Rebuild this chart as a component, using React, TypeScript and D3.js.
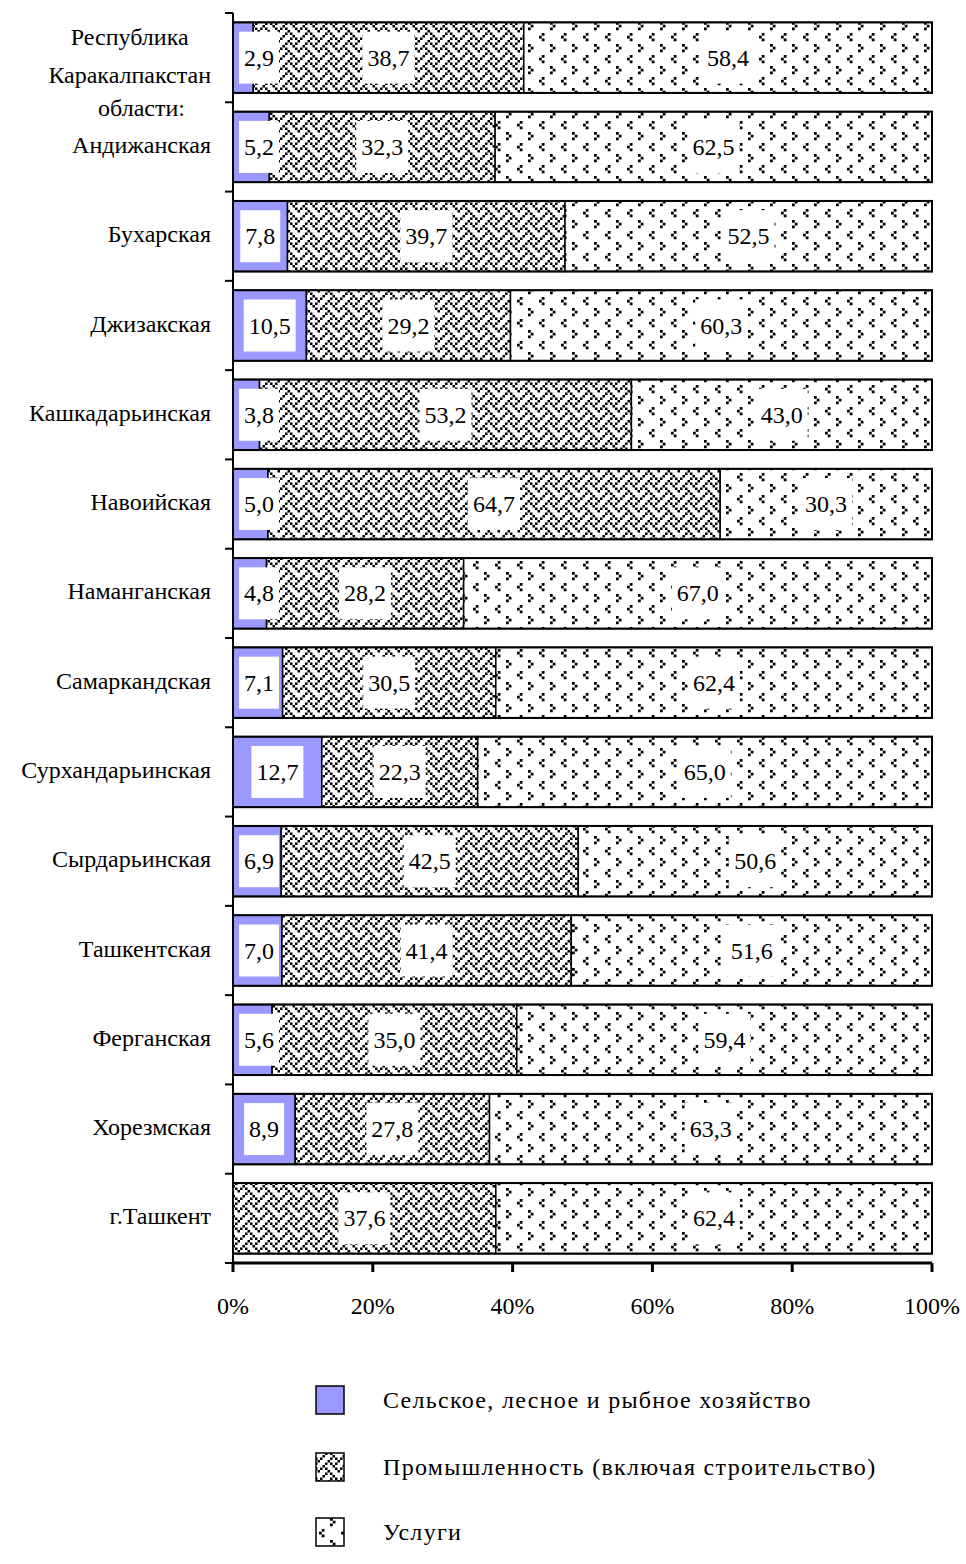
import React, { useEffect, useRef } from 'react';
import * as d3 from 'd3';

// categories (regions) and shares, %
const categories = [
  'Республика\nКаракалпакстан',
  'Андижанская',
  'Бухарская',
  'Джизакская',
  'Кашкадарьинская',
  'Навоийская',
  'Наманганская',
  'Самаркандская',
  'Сурхандарьинская',
  'Сырдарьинская',
  'Ташкентская',
  'Ферганская',
  'Хорезмская',
  'г.Ташкент',
];
const groupHeader = 'области:';
const agriculture = [2.9, 5.2, 7.8, 10.5, 3.8, 5.0, 4.8, 7.1, 12.7, 6.9, 7.0, 5.6, 8.9, 0];
const industry = [38.7, 32.3, 39.7, 29.2, 53.2, 64.7, 28.2, 30.5, 22.3, 42.5, 41.4, 35.0, 27.8, 37.6];
const services = [58.4, 62.5, 52.5, 60.3, 43.0, 30.3, 67.0, 62.4, 65.0, 50.6, 51.6, 59.4, 63.3, 62.4];
const seriesNames = [
  'Сельское, лесное и рыбное хозяйство',
  'Промышленность (включая строительство)',
  'Услуги',
];
const xTicks = [0, 20, 40, 60, 80, 100];

const W = 966;
const H = 1564;
const FONT = '"Liberation Serif", "Times New Roman", serif';

// 8x8 fill patterns, drawn enlarged
const weaveRows = [
  '...X...X',
  '..X.X.X.',
  '.X...X..',
  'X.X...X.',
  '...X...X',
  '..X.X...',
  '.X...X..',
  'X...X.X.',
];
const dotRows = [
  'X.......',
  '.X......',
  'X.......',
  '........',
  '.....X..',
  '....X...',
  '.....X..',
  '........',
];

const App = () => {
  const ref = useRef<SVGSVGElement>(null);

  useEffect(() => {
    if (!ref.current) return;
    const svg = d3.select(ref.current);
    svg.selectAll('*').remove();

    const left = 233;
    const right = 932;
    const top = 13;
    const bottom = 1263;

    const x = d3.scaleLinear().domain([0, 100]).range([left, right]);
    const y = d3
      .scaleBand()
      .domain(categories)
      .range([top, bottom])
      .paddingInner(0.21)
      .paddingOuter(0.105);

    const defs = svg.append('defs');
    const makePattern = (id: string, rows: string[], px: number) => {
      const size = rows.length * px;
      const p = defs
        .append('pattern')
        .attr('id', id)
        .attr('patternUnits', 'userSpaceOnUse')
        .attr('width', size)
        .attr('height', size);
      p.append('rect').attr('width', size).attr('height', size).attr('fill', '#fff');
      rows.forEach((row, r) =>
        row.split('').forEach((c, col) => {
          if (c === 'X')
            p.append('rect')
              .attr('x', col * px)
              .attr('y', r * px)
              .attr('width', px)
              .attr('height', px)
              .attr('fill', '#000');
        })
      );
    };
    makePattern('weave', weaveRows, 2.5);
    makePattern('dots', dotRows, 2.75);

    const fills = ['#9999ff', 'url(#weave)', 'url(#dots)'];

    const table = categories.map((c, i) => ({
      cat: c,
      agri: agriculture[i],
      ind: industry[i],
      serv: services[i],
    }));
    const stacked = d3.stack<any>().keys(['agri', 'ind', 'serv'])(table);

    const bars = svg.append('g');
    stacked.forEach((series, si) => {
      bars
        .selectAll(null)
        .data(series.filter((d) => d[1] - d[0] > 0))
        .join('rect')
        .attr('x', (d) => x(d[0]))
        .attr('y', (d) => y(d.data.cat)!)
        .attr('width', (d) => x(d[1]) - x(d[0]))
        .attr('height', y.bandwidth())
        .attr('fill', fills[si])
        .attr('stroke', '#000')
        .attr('stroke-width', 1.5);
    });

    bars
      .selectAll(null)
      .data(categories)
      .join('rect')
      .attr('x', x(0))
      .attr('y', (d) => y(d)!)
      .attr('width', x(100) - x(0))
      .attr('height', y.bandwidth())
      .attr('fill', 'none')
      .attr('stroke', '#000')
      .attr('stroke-width', 2);

    // value labels with white boxes
    const labels = svg.append('g').attr('font-family', FONT).attr('font-size', 24);
    stacked.forEach((series, si) => {
      series.forEach((d) => {
        const v = d[1] - d[0];
        if (v <= 0) return;
        let cx = (x(d[0]) + x(d[1])) / 2;
        if (si === 0) cx = Math.max(cx, left + 26);
        const cy = y(d.data.cat)! + y.bandwidth() / 2;
        const g = labels.append('g');
        const box = g.append('rect').attr('fill', '#fff');
        const t = g
          .append('text')
          .attr('x', cx)
          .attr('y', cy)
          .attr('text-anchor', 'middle')
          .attr('dominant-baseline', 'central')
          .text(d3.format('.1f')(v).replace('.', ','));
        const w = (t.node() as SVGTextElement).getComputedTextLength();
        box
          .attr('x', cx - w / 2 - 5)
          .attr('y', cy - 26)
          .attr('width', w + 10)
          .attr('height', 52);
      });
    });

    // left axis
    const axis = svg.append('g').attr('stroke', '#000');
    axis.append('line').attr('x1', left).attr('x2', left).attr('y1', top).attr('y2', bottom).attr('stroke-width', 2);
    const bounds = d3.range(categories.length + 1).map((i) => top + i * y.step());
    axis
      .selectAll(null)
      .data(bounds)
      .join('line')
      .attr('x1', left - 8)
      .attr('x2', left)
      .attr('y1', (d) => d)
      .attr('y2', (d) => d)
      .attr('stroke-width', 2);

    // bottom axis
    axis.append('line').attr('x1', left).attr('x2', right).attr('y1', bottom).attr('y2', bottom).attr('stroke-width', 3);
    axis
      .selectAll(null)
      .data(xTicks)
      .join('line')
      .attr('x1', (d) => x(d))
      .attr('x2', (d) => x(d))
      .attr('y1', bottom)
      .attr('y2', bottom + 9)
      .attr('stroke-width', 3);
    svg
      .append('g')
      .attr('font-family', FONT)
      .attr('font-size', 24)
      .selectAll('text')
      .data(xTicks)
      .join('text')
      .attr('x', (d) => x(d))
      .attr('y', 1306)
      .attr('text-anchor', 'middle')
      .attr('dominant-baseline', 'central')
      .text((d) => `${d}%`);

    // category labels
    const cat = svg.append('g').attr('font-family', FONT).attr('font-size', 24);
    const labelRight = 211;
    const measure = (s: string) => {
      const t = cat.append('text').text(s);
      const w = (t.node() as SVGTextElement).getComputedTextLength();
      t.remove();
      return w;
    };
    categories.forEach((c, i) => {
      const cy = y(c)! + y.bandwidth() / 2;
      const lines = c.split('\n');
      const widths = lines.map(measure);
      const maxW = Math.max(...widths);
      const mid = labelRight - maxW / 2;
      const lh = 38;
      lines.forEach((ln, li) => {
        cat
          .append('text')
          .attr('x', mid)
          .attr('y', cy + (li - (lines.length - 1) / 2) * lh - 2)
          .attr('text-anchor', 'middle')
          .attr('dominant-baseline', 'central')
          .text(ln);
      });
      if (i === 1) {
        cat
          .append('text')
          .attr('x', mid)
          .attr('y', cy - 39)
          .attr('text-anchor', 'middle')
          .attr('dominant-baseline', 'central')
          .text(groupHeader);
      }
    });

    // legend
    const legend = svg.append('g').attr('font-family', FONT).attr('font-size', 24);
    const legendY = [1400, 1467, 1532];
    seriesNames.forEach((name, i) => {
      legend
        .append('rect')
        .attr('x', 316)
        .attr('y', legendY[i] - 14)
        .attr('width', 28)
        .attr('height', 28)
        .attr('fill', fills[i])
        .attr('stroke', '#000')
        .attr('stroke-width', 1.5);
      legend
        .append('text')
        .attr('x', 383)
        .attr('y', legendY[i])
        .attr('dominant-baseline', 'central')
        .attr('letter-spacing', 1.3)
        .text(name);
    });
  }, []);

  return (
    <svg
      ref={ref}
      width={W}
      height={H}
      style={{ position: 'absolute', left: 0, top: 0, background: '#fff' }}
    />
  );
};

export default App;
